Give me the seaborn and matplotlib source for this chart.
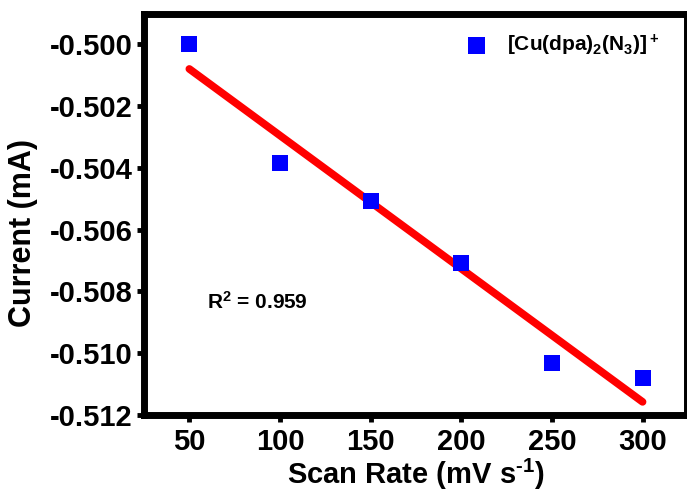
import matplotlib
matplotlib.use("Agg")
import matplotlib.pyplot as plt
import seaborn as sns
import pandas as pd

# ---- data ----
scan_rate = [50, 100, 150, 200, 250, 300]
current = [-0.5000, -0.50384, -0.50508, -0.50708, -0.51032, -0.51080]
x_ticks = [50, 100, 150, 200, 250, 300]
y_ticks = [-0.500, -0.502, -0.504, -0.506, -0.508, -0.510, -0.512]
series_label = r"[Cu(dpa)$_2$(N$_3$)]$^+$"
r2_text = r"R$^2$ = 0.959"

df = pd.DataFrame({"Scan Rate": scan_rate, "Current": current})

sns.set_style("ticks")
plt.rcParams["font.family"] = ["Liberation Sans", "DejaVu Sans"]
plt.rcParams["font.weight"] = "bold"
plt.rcParams["text.color"] = "black"
plt.rcParams["axes.labelcolor"] = "black"
plt.rcParams["xtick.color"] = "black"
plt.rcParams["ytick.color"] = "black"
plt.rcParams["mathtext.fontset"] = "custom"
plt.rcParams["mathtext.rm"] = "Liberation Sans:bold"
plt.rcParams["mathtext.it"] = "Liberation Sans:bold"
plt.rcParams["mathtext.bf"] = "Liberation Sans:bold"
plt.rcParams["mathtext.default"] = "rm"

fig = plt.figure(figsize=(6.87, 4.95), dpi=100)
ax = fig.add_axes([144 / 687, 80 / 495, 543 / 687, 401 / 495])

sns.regplot(data=df, x="Scan Rate", y="Current", scatter=False, ci=None,
            truncate=True, ax=ax,
            line_kws=dict(color="#ff0000", lw=5.5, solid_capstyle="round"))
sns.scatterplot(data=df, x="Scan Rate", y="Current", marker="s", s=135,
                color="#0000ff", edgecolor="none", label=series_label,
                ax=ax, zorder=3)

ax.set_xlim(25, 324.5)
ax.set_ylim(-0.512, -0.49902)
ax.set_xticks(x_ticks)
ax.set_yticks(y_ticks)
ax.set_xticklabels([str(v) for v in x_ticks])
ax.set_yticklabels([f"{v:.3f}" for v in y_ticks])

for sp in ax.spines.values():
    sp.set_visible(True)
    sp.set_linewidth(5)
    sp.set_color("black")
ax.tick_params(axis="both", direction="out", length=5, width=3.5,
               labelsize=21, pad=3, color="black", labelcolor="black")
ax.tick_params(axis="x", pad=4)
for lab in ax.get_xticklabels() + ax.get_yticklabels():
    lab.set_fontweight("bold")

ax.set_xlabel(r"Scan Rate (mV s$^{\text{-1}}$)", fontsize=21, fontweight="bold",
              labelpad=1, color="black")
ax.set_ylabel("Current (mA)", fontsize=22, fontweight="bold", color="black")
ax.yaxis.set_label_coords(-0.195, 0.455)

ax.text(0.116, 0.282, r2_text, transform=ax.transAxes, fontsize=15,
        fontweight="bold", ha="left", va="center", color="black")

leg = ax.legend(loc="upper right", frameon=False, fontsize=15,
                handletextpad=0.5, borderaxespad=0.0, markerscale=1.05,
                bbox_to_anchor=(0.965, 0.975))
for t in leg.get_texts():
    t.set_color("black")

fig.savefig("out.png", dpi=100)
